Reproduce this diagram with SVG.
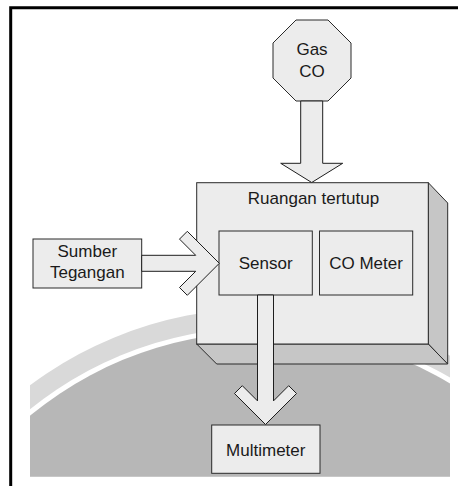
<svg xmlns="http://www.w3.org/2000/svg" width="458" height="486" viewBox="0 0 458 486">
<defs>
<style>
.box{fill:#ececec;stroke:#2a2a2a;stroke-width:1}
.side{fill:#c6c6c6;stroke:#2a2a2a;stroke-width:1}
.arrow{fill:#ececec;stroke:#1e1e1e;stroke-width:1;stroke-linejoin:miter}
.t{font-family:"Liberation Sans",Arial,sans-serif;font-size:17px;fill:#1a1a1a;text-anchor:middle}
</style>
<clipPath id="bgclip"><rect x="30" y="0" width="420" height="476.7"/></clipPath>
</defs>
<rect width="458" height="486" fill="#ffffff"/>
<g id="background" clip-path="url(#bgclip)">
<circle cx="263" cy="698" r="390" fill="#d9d9d9"/>
<circle cx="263" cy="698" r="371" fill="#ffffff"/>
<circle cx="263" cy="698" r="366" fill="#b7b7b7"/>
</g>
<g id="frame" fill="none" stroke="#000" stroke-width="3">
<path d="M10.7 486 V7.7 H458"/>
</g>
<g id="gas-co">
<polygon class="box" points="296,20 328,20 351,43 351,78 328,101 296,101 273,78 273,43"/>
<text class="t" x="312" y="55">Gas</text>
<text class="t" x="312" y="77">CO</text>
</g>
<g id="ruangan-tertutup">
<polygon class="side" points="428.3,182.7 447.7,203 447.7,364 428.3,344"/>
<polygon class="side" points="196.7,344 216.7,364 447.7,364 428.3,344"/>
<rect class="box" x="196.7" y="182.7" width="231.6" height="161.3"/>
<text class="t" x="313.5" y="204">Ruangan tertutup</text>
</g>
<g id="sensor">
<rect class="box" x="219" y="231" width="93.3" height="64"/>
<text class="t" x="265.7" y="269">Sensor</text>
</g>
<g id="co-meter">
<rect class="box" x="319.5" y="231" width="93.2" height="64"/>
<text class="t" x="366" y="269">CO Meter</text>
</g>
<g id="sumber-tegangan">
<rect class="box" x="33" y="239" width="108.7" height="49"/>
<text class="t" x="87.3" y="257">Sumber</text>
<text class="t" x="87.3" y="278">Tegangan</text>
</g>
<g id="multimeter">
<rect class="box" x="211.7" y="425" width="108.3" height="48.3"/>
<text class="t" x="265.8" y="456">Multimeter</text>
</g>
<g id="connectors">
<polygon class="arrow" points="300.7,101 300.7,163.3 280.7,163.3 311.7,182.5 342.7,163.3 322.7,163.3 322.7,101"/>
<polygon class="arrow" points="141.7,255.3 195.7,255.3 179.5,239.1 187.3,231.3 219.3,263.3 187.3,295.3 179.5,287.5 195.7,271.3 141.7,271.3"/>
<polygon class="arrow" points="257.5,295 257.5,400.9 242.3,385.7 234.5,393.5 265.5,424.5 296.5,393.5 288.7,385.7 273.5,400.9 273.5,295"/>
</g>
</svg>
